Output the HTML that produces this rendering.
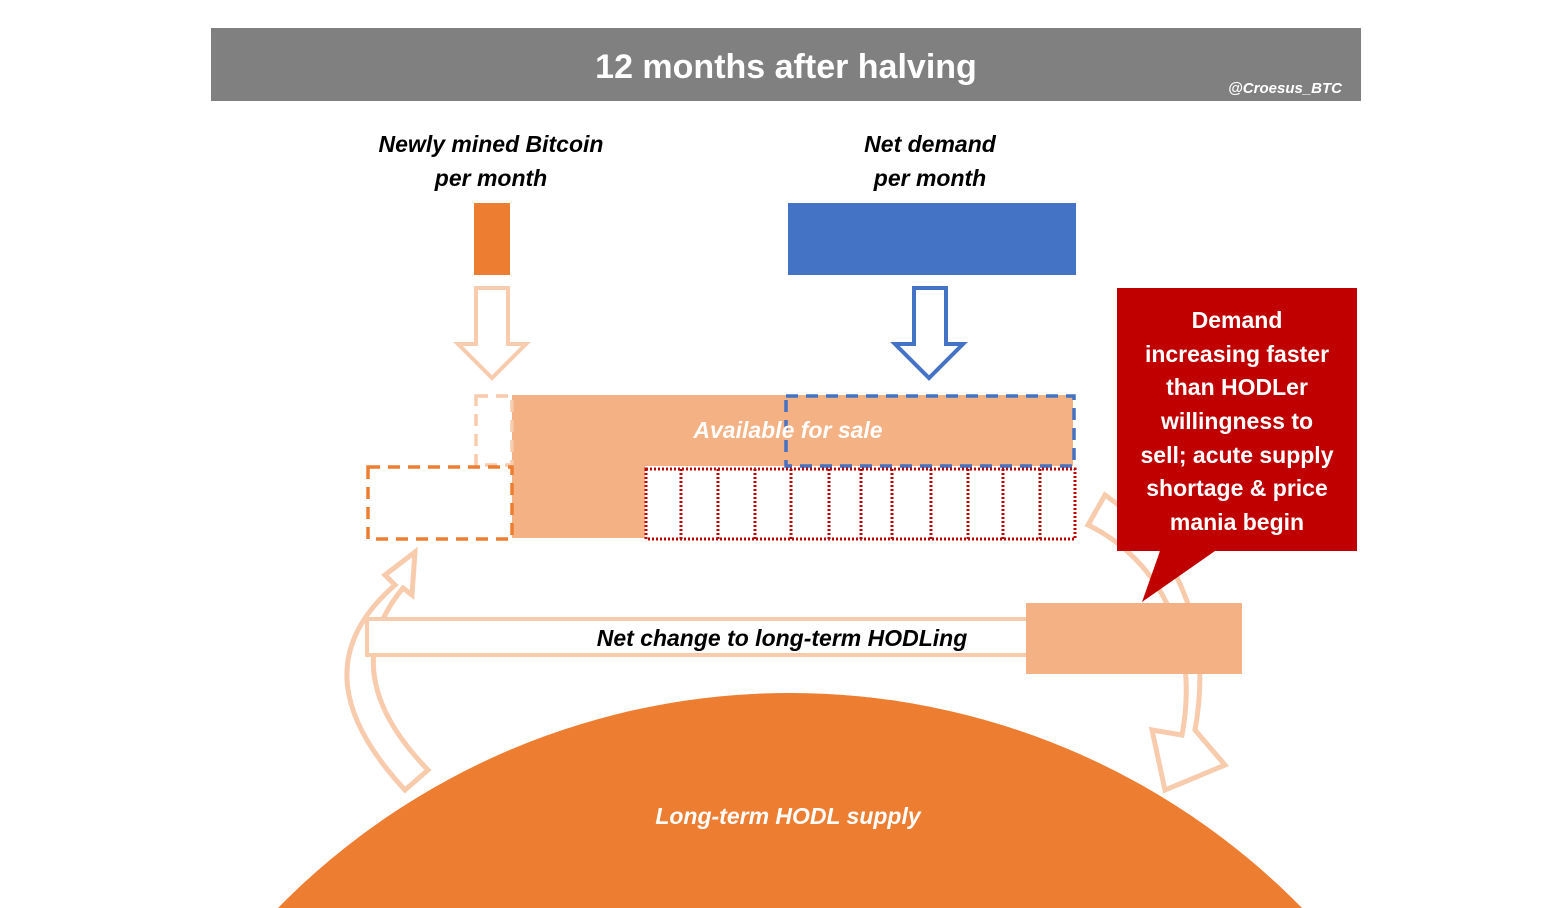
<!DOCTYPE html>
<html><head><meta charset="utf-8"><style>
html,body{margin:0;padding:0;width:1548px;height:908px;overflow:hidden;background:#fff}
svg{display:block}
svg text{font-family:"Liberation Sans",Arial,sans-serif;font-weight:bold}
</style></head><body>
<svg width="1548" height="908" viewBox="0 0 1548 908" xmlns="http://www.w3.org/2000/svg">
<rect x="211" y="28" width="1150" height="73" fill="#808080"/>
<text x="786" y="78" font-size="34" fill="#fff" text-anchor="middle">12 months after halving</text>
<text x="1342" y="93" font-size="15" font-style="italic" fill="#fff" text-anchor="end">@Croesus_BTC</text>

<g font-size="23" font-style="italic" fill="#000" text-anchor="middle">
<text x="491" y="152">Newly mined Bitcoin</text>
<text x="491" y="186">per month</text>
<text x="930" y="152">Net demand</text>
<text x="930" y="186">per month</text>
</g>
<rect x="474" y="203" width="36" height="72" fill="#ed7d31"/>
<rect x="788" y="203" width="288" height="72" fill="#4472c4"/>

<polygon points="476,288 508,288 508,344 526,344 492,378 458,344 476,344" fill="none" stroke="#f8cbad" stroke-width="4"/>
<polygon points="914,288 946,288 946,344 963,344 929,378 895,344 914,344" fill="none" stroke="#4472c4" stroke-width="4"/>

<path d="M405,790 C340,720 320,650 395,585 L385,575 L415,552 L412,595 L403,588 C360,640 360,700 428,770 Z" fill="none" stroke="#f8cbad" stroke-width="5"/>
<path d="M1105,495 C1170,540 1215,620 1195,730 L1225,765 L1165,790 L1152,730 L1182,735 C1200,640 1160,560 1088,525 Z" fill="none" stroke="#f8cbad" stroke-width="5"/>

<path d="M512,395 H1073 V466 H645 V538 H512 Z" fill="#f4b183"/>
<rect x="476" y="396" width="36" height="69" fill="none" stroke="#f8cbad" stroke-width="3.5" stroke-dasharray="12,8"/>
<rect x="368" y="467" width="144" height="72" fill="none" stroke="#ed7d31" stroke-width="3.5" stroke-dasharray="12,8"/>
<rect x="786" y="396" width="288" height="70" fill="none" stroke="#4472c4" stroke-width="3.5" stroke-dasharray="12,8"/>
<text x="788" y="438" font-size="23" font-style="italic" fill="#fff" text-anchor="middle">Available for sale</text>
<g fill="none" stroke="#c00000" stroke-width="3" stroke-dasharray="2,2">
<rect x="646" y="469" width="429" height="70"/>
<path d="M681,469V539M718,469V539M755,469V539M791,469V539M829,469V539M861,469V539M892,469V539M931,469V539M968,469V539M1003,469V539M1040,469V539"/>
</g>

<rect x="367" y="619" width="665" height="36" fill="#fff" stroke="#f8cbad" stroke-width="4"/>
<text x="782" y="646" font-size="23" font-style="italic" fill="#000" text-anchor="middle">Net change to long-term HODLing</text>
<rect x="1026" y="603" width="216" height="71" fill="#f4b183"/>

<path d="M1117,288 H1357 V551 H1215 L1142,602 L1160,551 H1117 Z" fill="#c00000"/>
<g font-size="23" fill="#fff" text-anchor="middle">
<text x="1237" y="328">Demand</text>
<text x="1237" y="362">increasing faster</text>
<text x="1237" y="395">than HODLer</text>
<text x="1237" y="429">willingness to</text>
<text x="1237" y="463">sell; acute supply</text>
<text x="1237" y="496">shortage &amp; price</text>
<text x="1237" y="530">mania begin</text>
</g>

<path d="M278,908 A717,717 0 0 1 1302,908 Z" fill="#ed7d31"/>
<text x="788" y="824" font-size="23" font-style="italic" fill="#fff" text-anchor="middle">Long-term HODL supply</text>
</svg>
</body></html>
